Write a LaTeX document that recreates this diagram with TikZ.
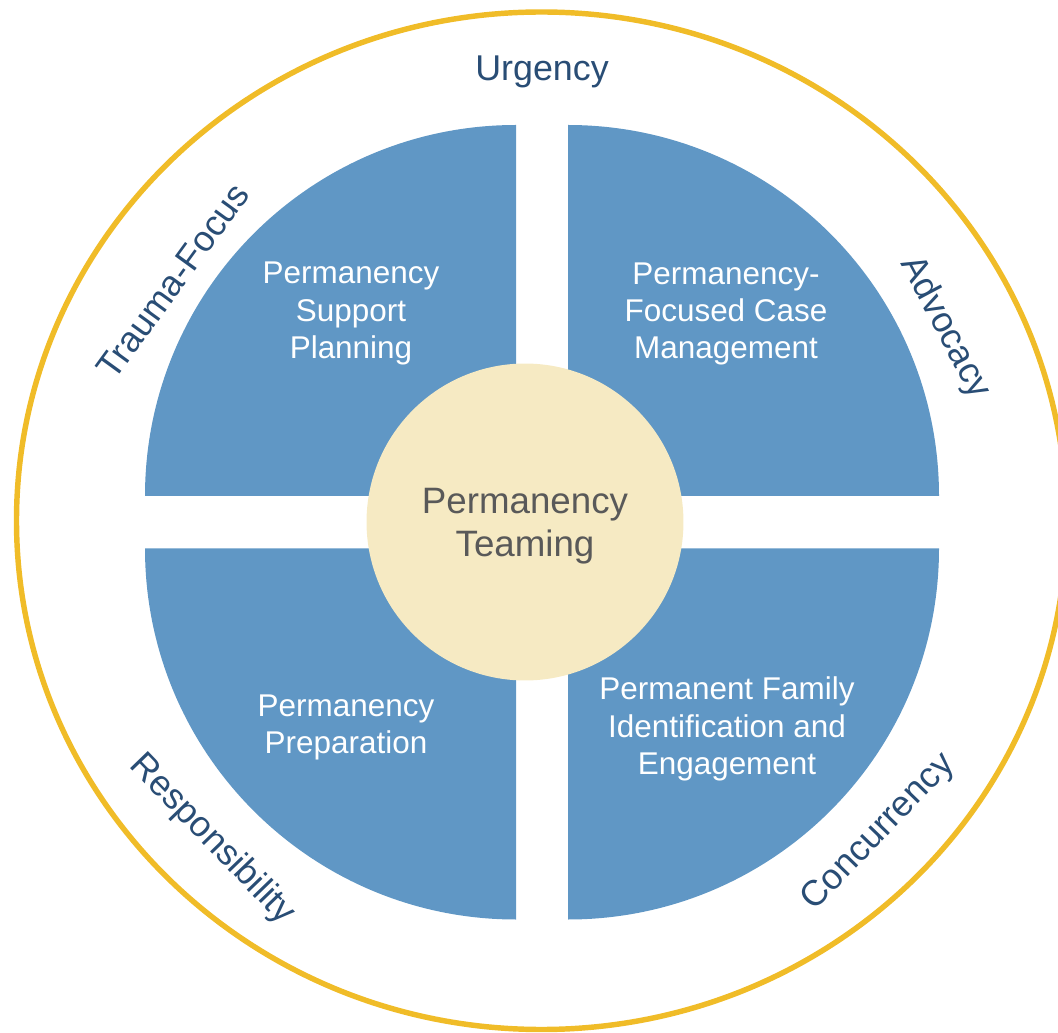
\documentclass[tikz,border=0pt]{standalone}
\usepackage{fontspec}
\setmainfont{Liberation Sans}
\usetikzlibrary{positioning}

\definecolor{quadblue}{RGB}{96,151,197}
\definecolor{ringgold}{RGB}{240,188,40}
\definecolor{coreyellow}{RGB}{246,234,195}
\definecolor{coregray}{RGB}{89,89,89}
\definecolor{labelblue}{RGB}{41,77,117}

\begin{document}
\begin{tikzpicture}[x=0.02cm, y=0.02cm,
  quad/.style={fill=quadblue},
  quadtext/.style={text=white, align=center, font=\fontsize{17.9}{21.2}\selectfont},
  ringlabel/.style={text=labelblue, text depth=0pt, font=\fontsize{20.4}{24}\selectfont}]

\useasboundingbox (0,0) rectangle (1058,1032);
\clip (0,0) rectangle (1058,1032);

% Outer ring
\draw[ringgold, line width=3.1pt] (541.5,511.25) ellipse [x radius=525, y radius=508.75];

% Four quadrants
\fill[quad] (516,536) -- ++(-371,0) arc[start angle=180, end angle=90, radius=371] -- cycle;
\fill[quad] (568,536) -- ++(371,0) arc[start angle=0, end angle=90, radius=371] -- cycle;
\fill[quad] (516,483.5) -- ++(-371,0) arc[start angle=180, end angle=270, radius=371] -- cycle;
\fill[quad] (568,483.5) -- ++(371,0) arc[start angle=0, end angle=-90, radius=371] -- cycle;

% Quadrant texts
\node[quadtext] (support) at (351,718.5) {Permanency\\Support\\Planning};
\node[quadtext] (casemgmt) at (726,718) {Permanency-\\Focused Case\\Management};
\node[quadtext] (prep) at (346,304.5) {Permanency\\Preparation};
\node[quadtext] (family) at (727,303) {Permanent Family\\Identification and\\Engagement};

% Core
\node[circle, fill=coreyellow, minimum size=6.34cm, inner sep=0pt] (core) at (525,510) {};
\node[text=coregray, align=center, font=\fontsize{20.9}{24.2}\selectfont] (coretitle) at (525,506) {Permanency\\Teaming};

% Ring labels
\node[ringlabel] (urgency) at (542,963.5) {Urgency};
\node[ringlabel, rotate=54] (trauma) at (173,751) {Trauma-Focus};
\node[ringlabel, rotate=-62] (advocacy) at (948,706) {Advocacy};
\node[ringlabel, rotate=-46] (respons) at (214.5,195) {Responsibility};
\node[ringlabel, rotate=46] (concur) at (876,202) {Concurrency};

\end{tikzpicture}
\end{document}
